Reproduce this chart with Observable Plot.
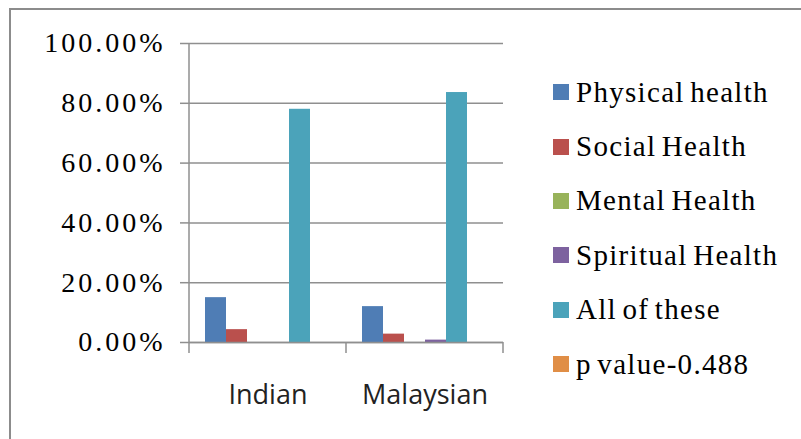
<!DOCTYPE html>
<html>
<head>
<meta charset="utf-8">
<script src="https://cdn.jsdelivr.net/npm/d3@7"></script>
<script src="https://cdn.jsdelivr.net/npm/@observablehq/plot@0.6"></script>
<style>
  body { margin: 0; background: #fff; }
  #chart { position: relative; width: 801px; height: 439px; overflow: hidden; background: #fff; }
  #chart svg { position: absolute; left: 0; top: 0; }
  #border { position: absolute; left: 9px; top: 8px; width: 900px; height: 600px;
            border-top: 2px solid #8c8c8c; border-left: 2px solid #8c8c8c; }
  #legend { position: absolute; left: 553px; top: 65px;
            font-family: "Liberation Serif", "Times New Roman", serif; font-size: 29px; color: #000; }
  #legend .row { display: flex; align-items: center; height: 54.4px; }
  #legend .sw { width: 16px; height: 16px; margin-right: 7px; flex: none; }
  #legend .lab { letter-spacing: 1.3px; word-spacing: -3px; white-space: nowrap; }
  #chart svg [aria-label="y-axis tick label"] text { letter-spacing: 3px; }
</style>
</head>
<body>
<div id="chart"><div id="border"></div></div>
<script>
// Categories and series
const groups = ["Indian", "Malaysian"];
const series = ["Physical health", "Social Health", "Mental Health", "Spiritual Health", "All of these", "p value-0.488"];

// Percent of respondents per series, one array per group
const indianValues = [15.0, 4.3, 0, 0, 78.0, 0];
const malaysianValues = [12.0, 2.8, 0, 0.8, 83.6, 0];

// Y axis ticks (percent)
const yTicks = [0, 20, 40, 60, 80, 100];

// Series colours
const colors = ["#4F7DB5", "#BA504D", "#98B35A", "#7D629F", "#4BA3BA", "#E08E46"];

const gridColor = "#8f8f8f";

const table = [
  ...indianValues.map((v, i) => ({group: groups[0], series: series[i], value: v})),
  ...malaysianValues.map((v, i) => ({group: groups[1], series: series[i], value: v}))
];

const plot = Plot.plot({
  width: 801,
  height: 439,
  marginLeft: 189,
  marginRight: 298,
  marginTop: 43,
  marginBottom: 97,
  style: {background: "transparent", overflow: "visible"},
  fx: {domain: groups, padding: 0, label: null},
  x: {domain: series, paddingInner: 0, paddingOuter: 0.69, axis: null},
  y: {domain: [0, 100], label: null},
  color: {domain: series, range: colors},
  marks: [
    Plot.gridY(yTicks, {stroke: gridColor, strokeOpacity: 1, strokeWidth: 1.5}),
    Plot.axisY(yTicks, {
      tickSize: 9, tickPadding: 15,
      tickFormat: d => d.toFixed(2) + "%",
      fontFamily: "Liberation Serif", fontSize: 28,
      stroke: gridColor, strokeWidth: 1.5, fill: "#000", label: null
    }),
    Plot.barY(table, {fx: "group", x: "series", y: "value", fill: "series"}),
    Plot.ruleY([0], {stroke: gridColor, strokeWidth: 1.5}),
    Plot.axisFx({
      anchor: "bottom", tickSize: 0, tickPadding: 42,
      fontFamily: "Open Sans", fontSize: 27, fill: "#222", label: null
    })
  ]
});

document.getElementById("chart").appendChild(plot);

// Vertical axis line and category boundary ticks, placed with the plot's own scales
const fx = plot.scale("fx");
const y = plot.scale("y");
const yBase = y.apply(0);
const yTop = y.apply(100);
const edges = groups.map(g => fx.apply(g));
edges.push(fx.apply(groups[groups.length - 1]) + fx.bandwidth);

const svg = d3.select(plot);
const g = svg.append("g").attr("stroke", gridColor).attr("stroke-width", 1.5);
g.append("line")
  .attr("x1", edges[0]).attr("x2", edges[0])
  .attr("y1", yTop).attr("y2", yBase + 11);
g.selectAll("line.edge").data(edges.slice(1)).join("line")
  .attr("class", "edge")
  .attr("x1", d => d).attr("x2", d => d)
  .attr("y1", yBase).attr("y2", yBase + 11);

// Legend built from the colour scale
const color = plot.scale("color");
const legend = d3.select("#chart").append("div").attr("id", "legend");
const rows = legend.selectAll("div.row").data(color.domain).join("div").attr("class", "row");
rows.append("div").attr("class", "sw").style("background", (d, i) => color.range[i]);
rows.append("div").attr("class", "lab").text(d => d);
</script>
</body>
</html>
